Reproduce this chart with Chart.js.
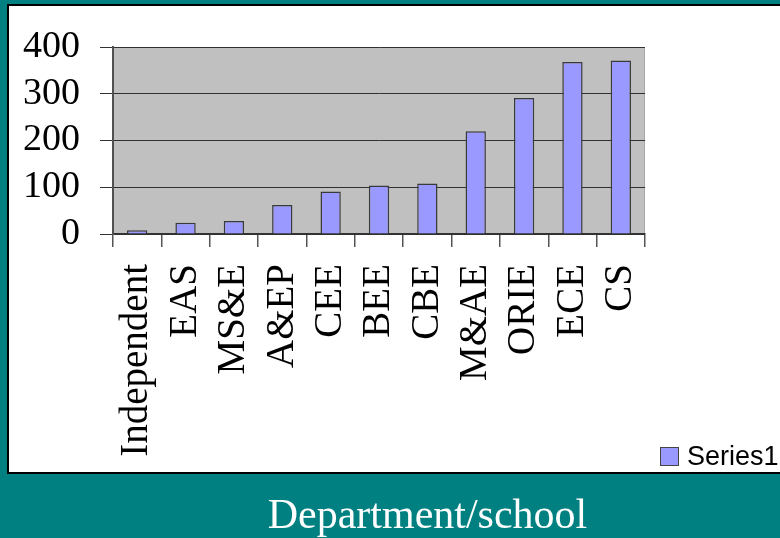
<!DOCTYPE html>
<html>
<head>
<meta charset="utf-8">
<script src="https://cdn.jsdelivr.net/npm/chart.js@4"></script>
<style>
  html, body { margin: 0; padding: 0; }
  body { width: 780px; height: 538px; background: #008080; position: relative; overflow: hidden; }
  #panel { position: absolute; left: 7px; top: 4px; width: 790px; height: 466px; background: #fff; border: 2px solid #000; }
  #chart { position: absolute; left: 0; top: 0; }
  #legend { position: absolute; left: 660px; top: 441px; font: 27px "Liberation Sans", Arial, sans-serif; color: #000; white-space: nowrap; }
  #legend span.box { display: inline-block; width: 17px; height: 17px; background: #9999ff; border: 1px solid #444; margin-right: 8px; vertical-align: -1px; }
  #title { position: absolute; left: 0; width: 855px; top: 490px; text-align: center; font: 42px "Liberation Serif", "Times New Roman", serif; color: #fff; }
</style>
</head>
<body>
<div id="panel"></div>
<canvas id="chart" width="780" height="538"></canvas>
<div id="legend"><span class="box"></span>Series1</div>
<div id="title">Department/school</div>
<script>
// Data
const departments = ["Independent", "EAS", "MS&E", "A&EP", "CEE", "BEE", "CBE", "M&AE", "ORIE", "ECE", "CS"];
const series1 = [8, 24, 28, 62, 91, 104, 108, 220, 291, 368, 371];
const yTicks = [0, 100, 200, 300, 400];

// Gray plot area behind bars
const plotBackground = {
    id: "plotBackground",
    beforeDraw(chart) {
        const a = chart.chartArea;
        const ctx = chart.ctx;
        ctx.save();
        ctx.fillStyle = "#c0c0c0";
        ctx.fillRect(a.left, a.top, a.right - a.left, a.bottom - a.top);
        ctx.strokeStyle = "#a8a8a8";
        ctx.lineWidth = 1;
        ctx.beginPath();
        ctx.moveTo(a.left, a.top + 0.5);
        ctx.lineTo(a.right - 0.5, a.top + 0.5);
        ctx.lineTo(a.right - 0.5, a.bottom);
        ctx.stroke();
        ctx.restore();
    }
};

new Chart(document.getElementById("chart"), {
    type: "bar",
    data: {
        labels: departments,
        datasets: [{
            label: "Series1",
            data: series1,
            backgroundColor: "#9999ff",
            borderColor: "#3a3a3a",
            borderWidth: 1.5,
            categoryPercentage: 1,
            barPercentage: 0.42
        }]
    },
    options: {
        responsive: false,
        animation: false,
        devicePixelRatio: 1,
        layout: { padding: { left: 0, right: 135, top: 47, bottom: 0 } },
        plugins: { legend: { display: false }, tooltip: { enabled: false } },
        scales: {
            x: {
                afterFit(scale) { scale.height = 304; },
                grid: { offset: true, drawOnChartArea: false, tickLength: 13, tickColor: "#555", lineWidth: 1.5 },
                border: { color: "#333", width: 1.5 },
                ticks: {
                    autoSkip: false,
                    minRotation: 90,
                    maxRotation: 90,
                    padding: 17,
                    color: "#000",
                    font: { family: "Liberation Serif", size: 39 }
                }
            },
            y: {
                min: 0,
                max: 400,
                afterFit(scale) { scale.width = 113; },
                afterBuildTicks(scale) { scale.ticks = yTicks.map(v => ({ value: v })); },
                grid: { color: "#303030", lineWidth: 1, tickLength: 13, tickColor: "#333" },
                border: { color: "#505050", width: 2 },
                ticks: {
                    autoSkip: false,
                    padding: 20,
                    color: "#000",
                    font: { family: "Liberation Serif", size: 38 }
                }
            }
        }
    },
    plugins: [plotBackground]
});
</script>
</body>
</html>
